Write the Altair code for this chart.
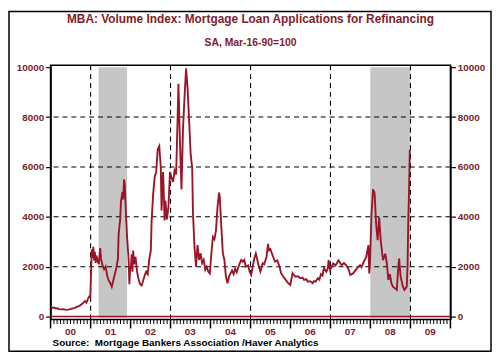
import altair as alt
import pandas as pd

# ---------------- data ----------------
dates = [
    "2000-01-07", "2000-01-21", "2000-02-04", "2000-02-18", "2000-03-03", "2000-03-17",
    "2000-04-07", "2000-04-28", "2000-05-19", "2000-06-09", "2000-06-30", "2000-07-21",
    "2000-08-11", "2000-09-01", "2000-09-22", "2000-10-13", "2000-10-27", "2000-11-10",
    "2000-11-24", "2000-12-08", "2000-12-22", "2000-12-29",
    "2001-01-05", "2001-01-12", "2001-01-19", "2001-01-26", "2001-02-02", "2001-02-09",
    "2001-02-16", "2001-02-23", "2001-03-02", "2001-03-16", "2001-03-30", "2001-04-06",
    "2001-04-20", "2001-05-04", "2001-05-18", "2001-06-01", "2001-06-15", "2001-06-29",
    "2001-07-13", "2001-07-27", "2001-08-10", "2001-08-24", "2001-09-07", "2001-09-14",
    "2001-09-28", "2001-10-05", "2001-10-19", "2001-10-26", "2001-11-02", "2001-11-09",
    "2001-11-16", "2001-11-30", "2001-12-14", "2001-12-21", "2001-12-28",
    "2002-01-04", "2002-01-11", "2002-01-18", "2002-01-25", "2002-02-01", "2002-02-15",
    "2002-03-01", "2002-03-15", "2002-03-29", "2002-04-12", "2002-04-26", "2002-05-10",
    "2002-05-24", "2002-06-07", "2002-06-21", "2002-07-05", "2002-07-12", "2002-07-26",
    "2002-08-09", "2002-08-23", "2002-09-06", "2002-09-20", "2002-10-04", "2002-10-11",
    "2002-10-25", "2002-11-08", "2002-11-15", "2002-11-29", "2002-12-13", "2002-12-27",
    "2003-01-10", "2003-01-24", "2003-02-07", "2003-02-21", "2003-03-07", "2003-03-14",
    "2003-03-28", "2003-04-11", "2003-04-25", "2003-05-09", "2003-05-23", "2003-06-06",
    "2003-06-20", "2003-07-04", "2003-07-18", "2003-07-25", "2003-08-08", "2003-08-22",
    "2003-09-05", "2003-09-19", "2003-10-03", "2003-10-17", "2003-10-31", "2003-11-14",
    "2003-11-28", "2003-12-12", "2003-12-26",
    "2004-01-09", "2004-01-23", "2004-02-06", "2004-02-20", "2004-03-05", "2004-03-19",
    "2004-03-26", "2004-04-09", "2004-04-23", "2004-05-07", "2004-05-21", "2004-06-04",
    "2004-06-18", "2004-07-02", "2004-07-16", "2004-07-30", "2004-08-13", "2004-08-27",
    "2004-09-03", "2004-09-17", "2004-09-24",
    "2004-10-08", "2004-10-22", "2004-11-05", "2004-11-19", "2004-12-10", "2004-12-24",
    "2005-01-07", "2005-01-21", "2005-02-04", "2005-02-18", "2005-03-04", "2005-03-18",
    "2005-04-01", "2005-04-22", "2005-05-06", "2005-05-27", "2005-06-10", "2005-06-17",
    "2005-07-01", "2005-07-22", "2005-08-12", "2005-09-02", "2005-09-23", "2005-10-07",
    "2005-10-28", "2005-11-18", "2005-12-09", "2005-12-30",
    "2006-01-20", "2006-02-03", "2006-02-17", "2006-03-10", "2006-03-31", "2006-04-21",
    "2006-05-05", "2006-05-26", "2006-06-09", "2006-06-30", "2006-07-21", "2006-08-04",
    "2006-08-18", "2006-09-08", "2006-09-22", "2006-10-06", "2006-10-20", "2006-11-03",
    "2006-11-24", "2006-12-08", "2006-12-15", "2006-12-29",
    "2007-01-12", "2007-01-26", "2007-02-16", "2007-03-16", "2007-04-13", "2007-05-04",
    "2007-05-25", "2007-06-15", "2007-07-01", "2007-07-27", "2007-08-17", "2007-08-31",
    "2007-09-28", "2007-10-12", "2007-10-26", "2007-11-23", "2007-12-14", "2007-12-21",
    "2007-12-28",
    "2008-01-11", "2008-01-25", "2008-02-08", "2008-02-22", "2008-03-07", "2008-03-21",
    "2008-04-04", "2008-04-25", "2008-05-16", "2008-05-30", "2008-06-13", "2008-06-27",
    "2008-07-11", "2008-07-25", "2008-08-29", "2008-09-12", "2008-09-19", "2008-10-03",
    "2008-10-24", "2008-11-07", "2008-11-28", "2008-12-05", "2008-12-12", "2008-12-19",
    "2008-12-26",
]
values = [
    380, 350, 360, 320, 330, 300,
    290, 300, 270, 280, 300, 330,
    350, 400, 430, 500, 560, 620,
    560, 720, 820, 760,
    1800, 2700, 2350, 2800, 2250, 2600,
    2150, 2450, 2300, 2100, 2750, 2300,
    2050, 1900, 2000, 1650, 1450, 1350,
    1200, 1450, 1700, 1950, 2300, 3300,
    3900, 4600, 5000, 4700, 5500, 5300,
    4500, 3200, 2300, 1300, 1900,
    2000, 2500, 1800, 2650, 2100, 2400,
    1800, 1500, 1300, 1250, 1450, 1650,
    1800, 1700, 2300, 2650, 3800, 4900,
    5600, 5800, 6700, 6830, 6000, 4250,
    5800, 3850, 4650, 3900, 4400, 5800,
    5560, 5400, 5850, 5700, 8000, 9340,
    7000, 5100, 7550, 8800, 9950, 9140,
    7820, 6500, 5960, 4130, 2790, 2000,
    2870, 2270, 2530, 2140, 2270, 1880,
    2000, 1800, 1730,
    2530, 3190, 3100, 3450, 4380, 4970,
    4780, 3590, 2530, 2270, 1600, 1330,
    1600, 1730, 1850, 1700, 1920, 1780,
    1870, 2050, 2130,
    2270, 2200, 2270, 2000, 2050, 1800,
    1670, 2000, 2330, 2530, 2270, 2000,
    1800, 2140, 2100, 2400, 2920, 2660,
    2700, 2450, 2200, 2250, 2000, 1740,
    1600, 1470, 1350, 1270,
    1740, 1650, 1600, 1620, 1540, 1560,
    1470, 1500, 1400, 1420, 1340, 1420,
    1400, 1540, 1480, 1700, 1650, 1950,
    1800, 1930, 2270, 1870,
    2000, 2130, 2050, 2260, 2060, 2150,
    2060, 1900, 1670, 1730, 1850, 1930,
    2060, 1980, 2130, 2390, 2860, 1730,
    2130,
    4110, 5100, 4960, 3720, 3060, 3980,
    3060, 2260, 2520, 2130, 1470, 1700,
    1330, 1200, 1070, 1990, 2330, 1600,
    1200, 1070, 1200, 2000, 3850, 5030,
    6690,
]

recession_start = ["2001-03-15", "2007-12-31"]
recession_end = ["2001-11-30", "2009-01-01"]
recession_top = [10000, 10000]
recession_bottom = [-100, -100]

vline_dates = ["2001-01-01", "2003-01-01", "2005-01-01", "2007-01-01", "2009-01-01"]
grid_values = [2000, 4000, 6000, 8000]
zero_line = [0]
y_ticks = [0, 2000, 4000, 6000, 8000, 10000]
year_labels = ["00", "01", "02", "03", "04", "05", "06", "07", "08", "09"]

title_text = ["MBA: Volume Index: Mortgage Loan Applications for Refinancing"]
subtitle_text = ["SA, Mar-16-90=100"]
source_text = ["Source:\u00a0 Mortgage Bankers Association /Haver Analytics"]

# ---------------- style ----------------
MAROON = "#7F1D2B"
LINE = "#9C1428"
FONT = "Liberation Sans"
W, H = 404, 257

line_df = pd.DataFrame({"date": dates, "value": values})
rec_df = pd.DataFrame({"start": recession_start, "end": recession_end,
                       "top": recession_top, "bottom": recession_bottom})
vl_df = pd.DataFrame({"d": vline_dates})
grid_df = pd.DataFrame({"v": grid_values})
zero_df = pd.DataFrame({"v": zero_line})

# tick positions along the time axis (month and year starts), labels mid-year
month_df = pd.DataFrame({"d": pd.date_range("2000-01-01", "2010-01-01", freq="MS").strftime("%Y-%m-%d")})
year_df = pd.DataFrame({"d": pd.date_range("2000-01-01", "2010-01-01", freq="YS").strftime("%Y-%m-%d")})
label_df = pd.DataFrame({"d": pd.date_range("2000-07-01", "2009-07-01", freq="12MS").strftime("%Y-%m-%d"),
                         "lab": year_labels})

xscale = alt.Scale(
    type="utc",
    domain=[alt.DateTime(year=2000, month=1, date=1, utc=True),
            alt.DateTime(year=2010, month=1, date=1, utc=True)],
)
yscale = alt.Scale(domain=[-120, 10080], nice=False, zero=False)

def y_axis(orient):
    return alt.Axis(
        values=y_ticks, orient=orient, title=None, grid=False, format="d",
        labelColor=MAROON, labelFont=FONT, labelFontSize=10, labelFontWeight="bold",
        tickSize=5, ticks=True, tickColor="black", tickWidth=1.2, domainColor="black",
        domainWidth=1.5, labelPadding=2,
    )

rect = alt.Chart(rec_df).mark_rect(color="#C6C6C6").encode(
    x=alt.X("start:T", scale=xscale, axis=None),
    x2="end:T",
    y=alt.Y("top:Q", scale=yscale, axis=None),
    y2="bottom:Q",
)

vlines = alt.Chart(vl_df).mark_rule(color="black", strokeDash=[5, 4], strokeWidth=1.1).encode(
    x=alt.X("d:T", scale=xscale, axis=None)
)

hgrid = alt.Chart(grid_df).mark_rule(color="black", strokeDash=[5, 4], strokeWidth=1.1).encode(
    y=alt.Y("v:Q", scale=yscale, axis=None)
)

zero = alt.Chart(zero_df).mark_rule(color=LINE, strokeWidth=1.5).encode(
    y=alt.Y("v:Q", scale=yscale, axis=y_axis("right"))
)

line = alt.Chart(line_df).mark_line(color=LINE, strokeWidth=1.9).encode(
    x=alt.X("date:T", scale=xscale, axis=None),
    y=alt.Y("value:Q", scale=yscale, axis=y_axis("left")),
)

# bottom time axis: minor (month) ticks, major (year) ticks, centred year labels
minor_ticks = alt.Chart(month_df).mark_rule(color="black", strokeWidth=1).encode(
    x=alt.X("d:T", scale=xscale, axis=None), y=alt.value(H), y2=alt.value(H + 4.5)
)
major_ticks = alt.Chart(year_df).mark_rule(color="black", strokeWidth=1.5).encode(
    x=alt.X("d:T", scale=xscale, axis=None), y=alt.value(H), y2=alt.value(H + 9)
)
year_text = alt.Chart(label_df).mark_text(
    font=FONT, fontSize=10, fontWeight="bold", color=MAROON, align="center", baseline="middle"
).encode(x=alt.X("d:T", scale=xscale, axis=None), y=alt.value(H + 13), text="lab:N")

title = alt.Chart(pd.DataFrame({"t": title_text})).mark_text(
    font=FONT, fontSize=12, fontWeight="bold", color=MAROON, align="center", baseline="middle"
).encode(text="t:N", x=alt.value(W / 2), y=alt.value(-47))

subtitle = alt.Chart(pd.DataFrame({"t": subtitle_text})).mark_text(
    font=FONT, fontSize=10.5, fontWeight="bold", color=MAROON, align="center", baseline="middle"
).encode(text="t:N", x=alt.value(W / 2), y=alt.value(-22))

source = alt.Chart(pd.DataFrame({"t": source_text})).mark_text(
    font=FONT, fontSize=10, fontWeight="bold", color="black", align="left", baseline="middle"
).encode(text="t:N", x=alt.value(2), y=alt.value(281))

border = alt.Chart(pd.DataFrame({"t": title_text})).mark_rect(
    fill="transparent", stroke="black", strokeWidth=1.5
).encode(x=alt.value(-42), x2=alt.value(445), y=alt.value(-54.3), y2=alt.value(289))

chart = alt.layer(
    rect, vlines, hgrid, zero, line, minor_ticks, major_ticks, year_text,
    title, subtitle, source, border
).resolve_axis(y="independent").properties(
    width=W, height=H, padding=0
).configure_view(stroke="black", strokeWidth=1.5)

chart.save("out.html", embed_options={"renderer": "svg", "actions": False})
